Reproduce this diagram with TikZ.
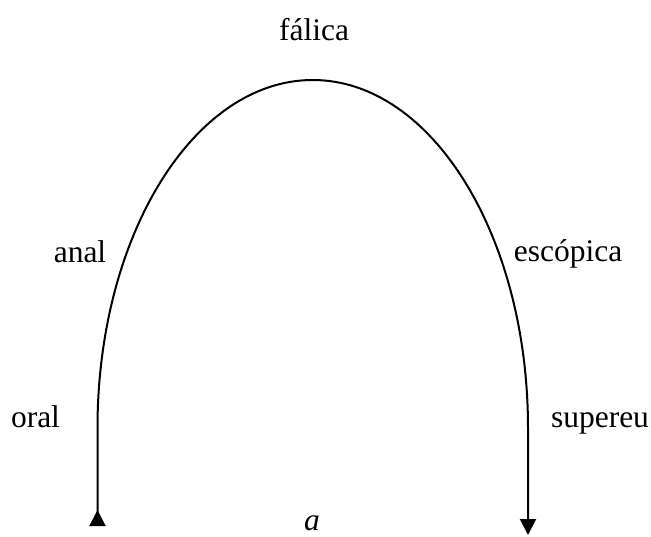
\documentclass[tikz,border=0pt]{standalone}
\usepackage{fontspec}
\setmainfont{Liberation Serif}
\usetikzlibrary{arrows.meta}
\tikzset{
  lbl/.style={inner sep=0pt, anchor=base, font=\fontsize{31.5}{37}\selectfont},
  curve/.style={line width=2pt, line join=round}
}
\begin{document}
\begin{tikzpicture}[x=1pt,y=-1pt]
\useasboundingbox (0,0) rectangle (651,536);
\coordinate (L0) at (97.5,526);
\coordinate (L1) at (97.5,428);
\coordinate (R1) at (528,428);
\coordinate (R0) at (528,535);
\draw[curve, {Triangle[reversed,length=16pt,width=16pt]}-{Triangle[length=16pt,width=16pt]}]
  (L0) -- (L1) arc[start angle=180, end angle=360, x radius=215.25, y radius=348] -- (R0);
\node[lbl] (falica) at (314,40) {fálica};
\node[lbl] (anal) at (80,262) {anal};
\node[lbl] (escopica) at (568,261) {escópica};
\node[lbl] (oral) at (35.5,427) {oral};
\node[lbl] (supereu) at (600,427) {supereu};
\node[lbl] (a) at (312,530) {\textit{a}};
\end{tikzpicture}
\end{document}
